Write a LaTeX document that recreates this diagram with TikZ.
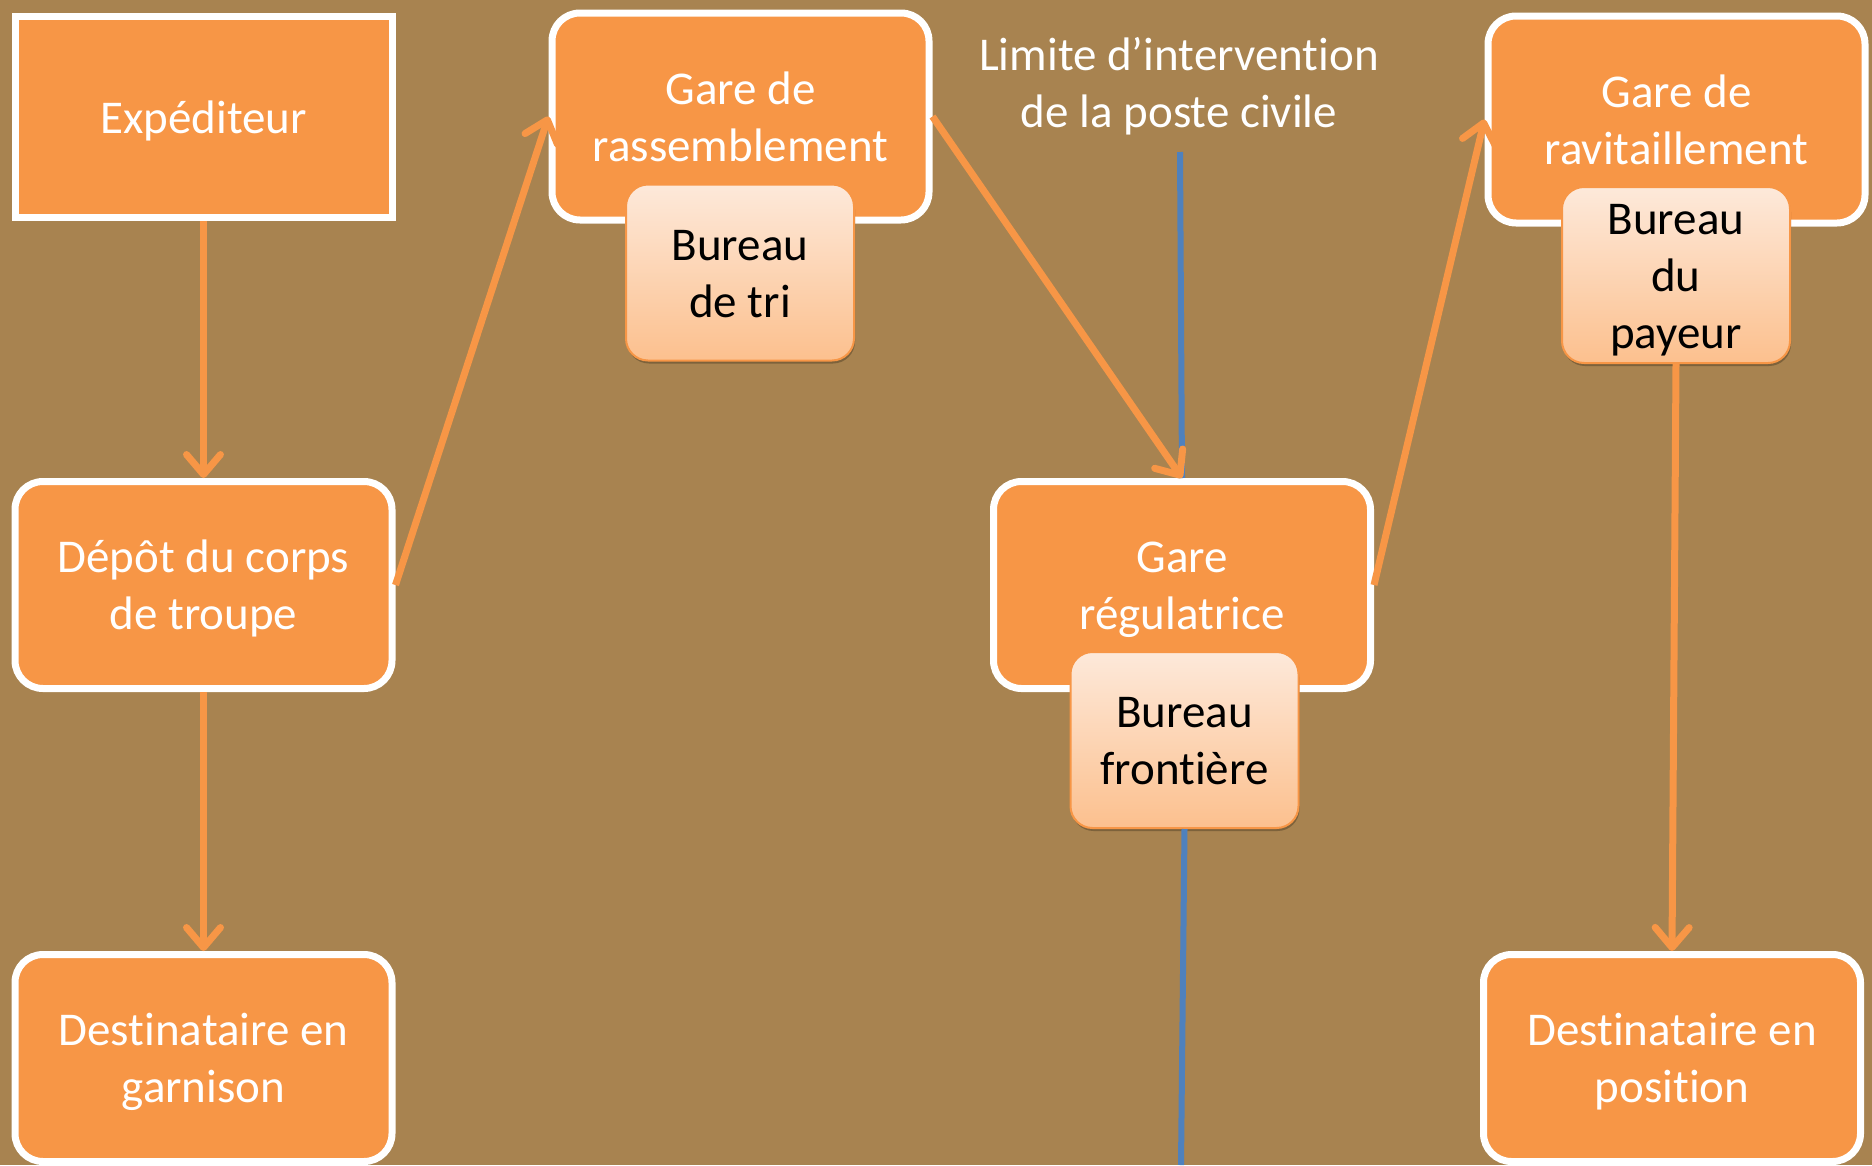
\documentclass[tikz,border=0pt]{standalone}
\usepackage{fontspec}
\setmainfont[Ligatures=NoCommon]{Carlito}
\usetikzlibrary{arrows.meta,shadows}
\definecolor{fond}{RGB}{168,131,80}
\definecolor{boite}{RGB}{247,150,70}
\definecolor{bureauhaut}{RGB}{253,233,218}
\definecolor{bureaubas}{RGB}{252,192,142}
\definecolor{ligne}{RGB}{79,129,189}
\newcommand\lignes[1]{\rule{0pt}{45pt}#1\rule[-13pt]{0pt}{13pt}}
\begin{document}
\begin{tikzpicture}
  [x=1pt,y=-1pt,
   every node/.style={align=center,font=\fontsize{47}{57}\selectfont},
   etape/.style={rectangle,rounded corners=28pt,draw=white,line width=7pt,
     fill=boite,text=white,inner sep=0pt,minimum width=377pt,minimum height=207pt,
     drop shadow={shadow xshift=1pt,shadow yshift=-3pt,opacity=0.3,fill=black}},
   bureau/.style={rectangle,rounded corners=22pt,draw=boite,line width=2pt,
     top color=bureauhaut,bottom color=bureaubas,text=black,inner sep=0pt,
     minimum width=228pt,minimum height=176pt,
     drop shadow={shadow xshift=1pt,shadow yshift=-3pt,opacity=0.25,fill=black}},
   fleche/.style={draw=boite,line width=7pt,-{Straight Barb[round,length=20pt,width=34pt]}},
   frontiere/.style={draw=ligne,line width=6pt}]
  \useasboundingbox (0,0) rectangle (1872,1165);
  \fill[fond] (0,0) rectangle (1872,1165);

  \node[etape,sharp corners,minimum height=201pt] (exp) at (203.5,117) {\lignes{Expéditeur}};
  \node[etape] (ras) at (740.5,116.5) {\lignes{Gare de\\rassemblement}};
  \node[bureau] (tri) at (740,272.5) {\lignes{Bureau\\de tri}};
  \node[text=white] (lim) at (1179,82.5) {\lignes{Limite d’intervention\\de la poste civile}};
  \node[etape] (rav) at (1676.5,119.5) {\lignes{Gare de\\ravitaillement}};
  \node[bureau] (pay) at (1676,275) {\lignes{Bureau\\du\\payeur}};
  \node[etape] (dep) at (203.5,585) {\lignes{Dépôt du corps\\de troupe}};
  \node[etape] (reg) at (1182,585) {\lignes{Gare\\régulatrice}};
  \node[bureau] (fro) at (1184.5,740) {\lignes{Bureau\\frontière}};
  \node[etape] (gar) at (203.5,1058) {\lignes{Destinataire en\\garnison}};
  \node[etape] (pos) at (1672,1058) {\lignes{Destinataire en\\position}};
  \coordinate (haut) at (1180,152);
  \coordinate (bas) at (1181,1165);

  \draw[frontiere] (haut) -- (reg.north);
  \draw[frontiere] (fro.south) -- (bas);

  \draw[fleche] (exp.south) -- (dep.north);
  \draw[fleche] (dep.east) -- (ras.west);
  \draw[fleche] (ras.east) -- (reg.north);
  \draw[fleche] (reg.east) -- (rav.west);
  \draw[fleche] (dep.south) -- (gar.north);
  \draw[fleche] (pay.south) -- (pos.north);

\end{tikzpicture}
\end{document}
